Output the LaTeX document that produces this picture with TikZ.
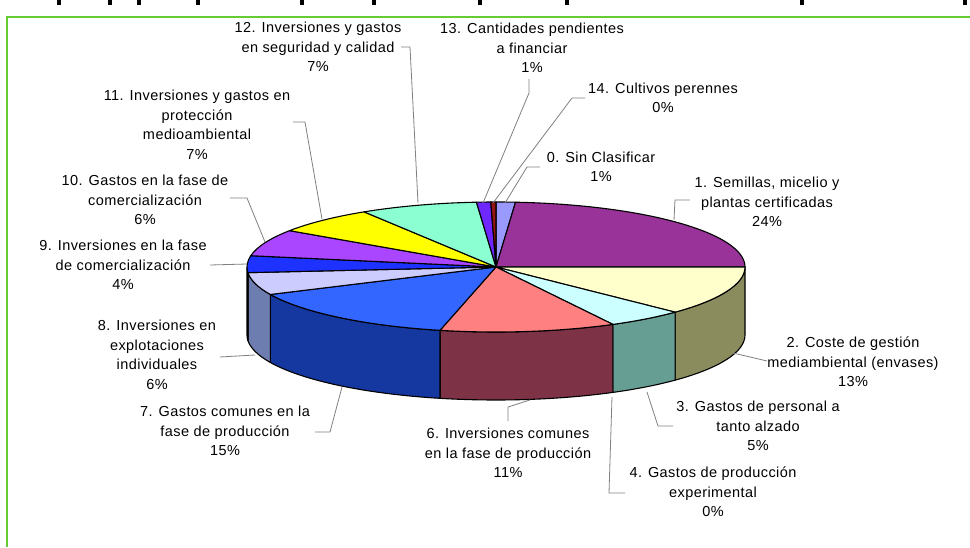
\documentclass[tikz,border=0pt]{standalone}
\usepackage{fontspec}
\setmainfont{Liberation Sans}[LetterSpace=3]
\usetikzlibrary{calc}
\definecolor{grn}{RGB}{102,204,51}
\definecolor{c0}{RGB}{153,153,255}
\definecolor{c1}{RGB}{153,51,153}
\definecolor{c2}{RGB}{255,255,204}
\definecolor{c3}{RGB}{204,255,255}
\definecolor{c6}{RGB}{255,128,128}
\definecolor{c7}{RGB}{51,102,255}
\definecolor{c8}{RGB}{204,204,255}
\definecolor{c9}{RGB}{30,50,255}
\definecolor{c10}{RGB}{170,70,255}
\definecolor{c11}{RGB}{255,255,0}
\definecolor{c12}{RGB}{140,255,210}
\definecolor{c13}{RGB}{110,40,255}
\definecolor{c14}{RGB}{150,20,20}
\definecolor{s2}{RGB}{138,140,94}
\definecolor{s3}{RGB}{102,158,148}
\definecolor{s6}{RGB}{125,50,70}
\definecolor{s7}{RGB}{20,55,160}
\definecolor{s8}{RGB}{110,125,175}
\definecolor{s9}{RGB}{15,25,160}
\newcommand\topslice[3]{\filldraw[slice,fill=#1] (C) -- ($(C)+(#2:249pt and 65pt)$) arc[start angle=#2,end angle=#3,x radius=249pt,y radius=65pt] -- cycle;}
\newcommand\sideface[3]{\filldraw[slice,fill=#1] ($(C)+(#3:249pt and 65pt)$) arc[start angle=#3,end angle=#2,x radius=249pt,y radius=65pt] -- ++(0pt,-68pt) arc[start angle=#2,end angle=#3,x radius=249pt,y radius=65pt] -- cycle;}
\begin{document}
\begin{tikzpicture}[x=1pt,y=1pt,
  slice/.style={draw=black,line width=1.1pt,line join=round},
  lbl/.style={font=\fontsize{14.5}{19.5}\selectfont,align=center,inner sep=0pt},
  leader/.style={draw=gray,line width=0.8pt},
  border/.style={draw=grn,line width=2pt}]
\useasboundingbox (0,0) rectangle (970,547);
\fill[white] (0,0) rectangle (970,547);
% clipped title fragments
\foreach \xx in {57,108,137,196,300,372,478,565,800,963}
  \fill[black] (\xx,542) rectangle ++(3.5,5);
% frame
\draw[border] (7,0) -- (7,530) -- (970,530);
% pie
\coordinate (C) at (496,280);
\sideface{s2}{-44}{0}
\sideface{s3}{-62}{-44}
\sideface{s6}{-103}{-62}
\sideface{s7}{-155}{-103}
\sideface{s8}{-175}{-155}
\sideface{s9}{-180}{-175}
\topslice{c0}{85.5}{90}
\topslice{c1}{0}{85.5}
\topslice{c2}{-44}{0}
\topslice{c3}{-62}{-44}
\topslice{c6}{-103}{-62}
\topslice{c7}{-155}{-103}
\topslice{c8}{-175}{-155}
\topslice{c9}{-190}{-175}
\topslice{c10}{-214}{-190}
\topslice{c11}{-238}{-214}
\topslice{c12}{-265.5}{-238}
\topslice{c13}{-268.8}{-265.5}
\topslice{c14}{-270}{-268.8}
% labels
\node[lbl] (l12) at (318,500) {12. Inversiones y gastos\\en seguridad y calidad\\7\%};
\node[lbl] (l13) at (532,499) {13. Cantidades pendientes\\a financiar\\1\%};
\node[lbl] (l14) at (663,449) {14. Cultivos perennes\\0\%};
\node[lbl] (l0) at (601,380) {0. Sin Clasificar\\1\%};
\node[lbl] (l1) at (767,345) {1. Semillas, micelio y\\plantas certificadas\\24\%};
\node[lbl] (l2) at (853,185) {2. Coste de gestión\\mediambiental (envases)\\13\%};
\node[lbl] (l3) at (758,121) {3. Gastos de personal a\\tanto alzado\\5\%};
\node[lbl] (l4) at (713,55) {4. Gastos de producción\\experimental\\0\%};
\node[lbl] (l6) at (508,94) {6. Inversiones comunes\\en la fase de producción\\11\%};
\node[lbl] (l7) at (225,116) {7. Gastos comunes en la\\fase de producción\\15\%};
\node[lbl] (l8) at (157,192) {8. Inversiones en\\explotaciones\\individuales\\6\%};
\node[lbl] (l9) at (123,282) {9. Inversiones en la fase\\de comercialización\\4\%};
\node[lbl] (l10) at (145,347) {10. Gastos en la fase de\\comercialización\\6\%};
\node[lbl] (l11) at (197,422) {11. Inversiones y gastos en\\protección\\medioambiental\\7\%};
% leader coordinates
\coordinate (a12) at (401,500); \coordinate (b12) at (410,500); \coordinate (p12) at (418,344);
\coordinate (a13) at (529,468); \coordinate (b13) at (529,454); \coordinate (p13) at (483,344);
\coordinate (a14) at (585,449); \coordinate (b14) at (572,449); \coordinate (p14) at (493,344);
\coordinate (a0) at (540,380); \coordinate (b0) at (527,380); \coordinate (p0) at (505,344);
\coordinate (a1) at (690,347); \coordinate (b1) at (675,347); \coordinate (p1) at (674,327);
\coordinate (a2) at (767,186); \coordinate (p2) at (733,194);
\coordinate (a3) at (673,121); \coordinate (b3) at (658,121); \coordinate (p3) at (647,155);
\coordinate (a4) at (625,54); \coordinate (b4) at (609,54); \coordinate (p4) at (612,150);
\coordinate (a6) at (508,126); \coordinate (b6) at (508,140); \coordinate (p6) at (530,147);
\coordinate (a7) at (315,115); \coordinate (b7) at (330,115); \coordinate (p7) at (342,160);
\coordinate (a8) at (220,190); \coordinate (p8) at (255,192);
\coordinate (a9) at (210,282); \coordinate (p9) at (247,283);
\coordinate (a10) at (230,349); \coordinate (b10) at (247,349); \coordinate (p10) at (265,305);
\coordinate (a11) at (293,425); \coordinate (b11) at (305,425); \coordinate (p11) at (322,328);
\draw[leader] (a12) -- (b12) -- (p12);
\draw[leader] (a13) -- (b13) -- (p13);
\draw[leader] (a14) -- (b14) -- (p14);
\draw[leader] (a0) -- (b0) -- (p0);
\draw[leader] (a1) -- (b1) -- (p1);
\draw[leader] (a2) -- (p2);
\draw[leader] (a3) -- (b3) -- (p3);
\draw[leader] (a4) -- (b4) -- (p4);
\draw[leader] (a6) -- (b6) -- (p6);
\draw[leader] (a7) -- (b7) -- (p7);
\draw[leader] (a8) -- (p8);
\draw[leader] (a9) -- (p9);
\draw[leader] (a10) -- (b10) -- (p10);
\draw[leader] (a11) -- (b11) -- (p11);
\end{tikzpicture}
\end{document}
